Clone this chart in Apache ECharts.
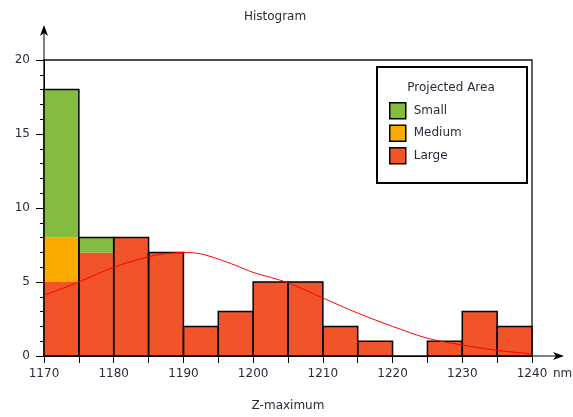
<!DOCTYPE html>
<html>
<head>
<meta charset="utf-8">
<script src="https://cdn.jsdelivr.net/npm/echarts@6/dist/echarts.min.js"></script>
<style>
  html, body { margin: 0; padding: 0; background: #fff; }
  #chart { width: 573px; height: 417px; }
</style>
</head>
<body>
<div id="chart"></div>
<script>
// Histogram bins (nm), width 5
const BIN = 5;
const binStart = [1170, 1175, 1180, 1185, 1190, 1195, 1200, 1205, 1210, 1215, 1220, 1225, 1230, 1235];
// Counts per projected-area class (stacked bottom to top: Large, Medium, Small)
const large  = [5, 7, 8, 7, 2, 3, 5, 5, 2, 1, 0, 1, 3, 2];
const medium = [3, 0, 0, 0, 0, 0, 0, 0, 0, 0, 0, 0, 0, 0];
const small  = [10, 1, 0, 0, 0, 0, 0, 0, 0, 0, 0, 0, 0, 0];
// Fitted distribution curve, sampled values
const curveX = [1170, 1175, 1180, 1185, 1187.5, 1190, 1192.5, 1195, 1197.5, 1200, 1205, 1210, 1215, 1220, 1225, 1230, 1235, 1240];
const curveY = [4.1, 5.0, 6.0, 6.7, 6.92, 7.0, 6.9, 6.55, 6.12, 5.65, 4.95, 3.92, 2.9, 2.0, 1.2, 0.74, 0.38, 0.14];
const xTicks = [1170, 1180, 1190, 1200, 1210, 1220, 1230, 1240];

const FONT = 'DejaVu Sans';
const TEXT = '#2b2b3a';
const COLORS = { Small: '#84bb41', Medium: '#fdaa00', Large: '#f05428' };

// Build [start, bottom, top] rows for each stacked layer
function layer(values, below) {
  return binStart.map((s, i) => {
    const base = below.reduce((acc, arr) => acc + arr[i], 0);
    return [s, base, base + values[i]];
  });
}
const totals = binStart.map((s, i) => [s, 0, large[i] + medium[i] + small[i]]);

function renderSeg(params, api) {
  const x0 = api.value(0), lo = api.value(1), hi = api.value(2);
  if (hi <= lo) return null;
  const a = api.coord([x0, lo]);
  const b = api.coord([x0 + BIN, hi]);
  return {
    type: 'rect',
    shape: { x: a[0], y: b[1], width: b[0] - a[0], height: a[1] - b[1] },
    style: { fill: api.visual('color'), stroke: null }
  };
}
function renderOutline(params, api) {
  const x0 = api.value(0), hi = api.value(2);
  if (hi <= 0) return null;
  const a = api.coord([x0, 0]);
  const b = api.coord([x0 + BIN, hi]);
  return {
    type: 'rect',
    shape: { x: a[0], y: b[1], width: b[0] - a[0], height: a[1] - b[1] },
    style: { fill: null, stroke: '#000', lineWidth: 1.5 }
  };
}

const chart = echarts.init(document.getElementById('chart'), null, { renderer: 'canvas' });

const segSeries = (name, data, z) => ({
  name, type: 'custom', renderItem: renderSeg,
  encode: { x: [0], y: [1, 2] }, data, z,
  itemStyle: { color: COLORS[name] }
});

chart.setOption({
  animation: false,
  title: {
    text: 'Histogram', left: 270, top: 6, textAlign: 'center',
    textStyle: { fontFamily: FONT, fontSize: 12, fontWeight: 'normal', color: TEXT }
  },
  grid: {
    left: 44, right: 41, top: 60, bottom: 60,
    show: true, borderColor: '#111', borderWidth: 1.3, backgroundColor: 'transparent'
  },
  legend: {
    orient: 'vertical', left: 384, top: 97,
    itemWidth: 16, itemHeight: 16, itemGap: 5,
    icon: 'rect',
    itemStyle: { borderColor: '#000', borderWidth: 1.5 },
    data: ['Small', 'Medium', 'Large'],
    textStyle: { fontFamily: FONT, fontSize: 12, color: TEXT, padding: [0, 0, 0, 3] },
    selectedMode: false, z: 8
  },
  xAxis: {
    type: 'value', min: 1170, max: 1240, interval: 5,
    name: 'Z-maximum', nameLocation: 'middle', nameGap: 44,
    nameTextStyle: { fontFamily: FONT, fontSize: 12, color: TEXT },
    axisLine: { show: true, lineStyle: { color: '#000', width: 1 } },
    axisTick: { show: true, inside: false, length: 7, lineStyle: { color: '#000', width: 1 } },
    axisLabel: {
      fontFamily: FONT, fontSize: 12, color: TEXT, margin: 12,
      formatter: v => (xTicks.indexOf(v) >= 0 ? String(v) : '')
    },
    splitLine: { show: false }
  },
  yAxis: {
    type: 'value', min: 0, max: 20, interval: 5,
    axisLine: { show: true, lineStyle: { color: '#000', width: 1 } },
    axisTick: { show: true, length: 8, lineStyle: { color: '#000', width: 1 } },
    minorTick: { show: true, splitNumber: 5, length: 4, lineStyle: { color: '#000', width: 1 } },
    axisLabel: { fontFamily: FONT, fontSize: 12, color: TEXT, margin: 14 },
    splitLine: { show: false }
  },
  series: [
    segSeries('Large', layer(large, []), 2),
    segSeries('Medium', layer(medium, [large]), 2),
    segSeries('Small', layer(small, [large, medium]), 2),
    {
      name: 'outline', type: 'custom', renderItem: renderOutline,
      encode: { x: [0], y: [1, 2] }, data: totals, z: 3, silent: true
    },
    {
      name: 'fit', type: 'line', smooth: 0.3, symbol: 'none', z: 4,
      data: curveX.map((x, i) => [x, curveY[i]]),
      lineStyle: { color: '#ff0000', width: 1 }, silent: true
    }
  ]
});

// Axis arrows, legend frame and unit label, placed from the axis scales
const o = chart.convertToPixel({ gridIndex: 0 }, [1170, 0]);
const e = chart.convertToPixel({ gridIndex: 0 }, [1240, 20]);
const xTip = e[0] + 32, yTip = e[1] - 35;
chart.setOption({
  graphic: [
    { type: 'line', shape: { x1: e[0], y1: o[1], x2: xTip - 2, y2: o[1] }, style: { stroke: '#000', lineWidth: 1 }, z: 10 },
    { type: 'polygon', shape: { points: [[xTip, o[1]], [xTip - 11, o[1] - 4], [xTip - 8, o[1]], [xTip - 11, o[1] + 4]] }, style: { fill: '#000' }, z: 10 },
    { type: 'line', shape: { x1: o[0], y1: e[1], x2: o[0], y2: yTip + 2 }, style: { stroke: '#000', lineWidth: 1 }, z: 10 },
    { type: 'polygon', shape: { points: [[o[0], yTip], [o[0] - 4, yTip + 11], [o[0], yTip + 8], [o[0] + 4, yTip + 11]] }, style: { fill: '#000' }, z: 10 },
    { type: 'text', left: e[0] + 21, top: o[1] + 12, style: { text: 'nm', font: '12px "DejaVu Sans"', fill: TEXT }, z: 10 },
    { type: 'rect', shape: { x: 377, y: 67, width: 150, height: 116 }, style: { fill: '#fff', stroke: '#000', lineWidth: 2 }, z: 6 },
    { type: 'text', x: 451, y: 82, style: { text: 'Projected Area', font: '12px "DejaVu Sans"', fill: TEXT, textAlign: 'center' }, z: 7 }
  ]
});
</script>
</body>
</html>
